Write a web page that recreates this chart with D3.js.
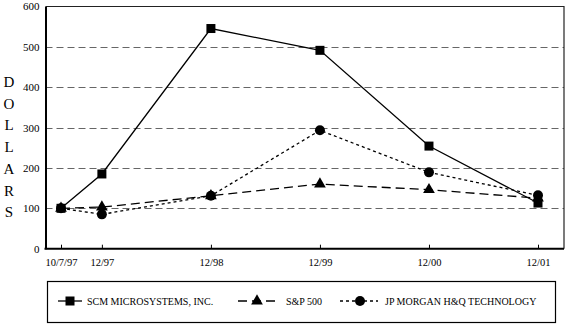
<!DOCTYPE html>
<html>
<head>
<meta charset="utf-8">
<script src="https://cdn.jsdelivr.net/npm/d3@7"></script>
<style>
  html, body { margin: 0; padding: 0; background: #fff; }
  svg { display: block; }
  svg text { font-family: 'Liberation Serif', 'Times New Roman', 'DejaVu Serif', serif !important; fill: #000; }
</style>
</head>
<body>
<svg id="chart" width="567" height="324" font-family="Liberation Serif, DejaVu Serif, serif"></svg>
<script>
// ---- data ----
const categories = ["10/7/97", "12/97", "12/98", "12/99", "12/00", "12/01"];
const periodYears = [-0.375, 0, 1, 2, 3, 4]; // years relative to 12/97
const scmValues = [100, 185, 545, 491, 254, 113];
const spValues = [100, 103, 131, 160, 146, 125];
const jpmValues = [100, 85, 131, 293, 189, 132];
const yTicks = [0, 100, 200, 300, 400, 500, 600];
const seriesNames = ["SCM MICROSYSTEMS, INC.", "S&P 500", "JP MORGAN H&Q TECHNOLOGY"];
const yTitle = "DOLLARS";

(function () {
const svg = d3.select("#chart");
const plotLeft = 45.5, plotRight = 564, plotTop = 6.3, plotBottom = 248.7;

const x = d3.scaleLinear().domain([-0.375, 4]).range([61, 538]);
const y = d3.scaleLinear().domain([0, 600]).range([plotBottom, plotTop]);

// gridlines
svg.append("g").selectAll("line")
  .data(yTicks.filter(v => v > 0 && v < 600))
  .join("line")
  .attr("x1", plotLeft).attr("x2", plotRight)
  .attr("y1", d => Math.round(y(d)) + 0.5).attr("y2", d => Math.round(y(d)) + 0.5)
  .attr("stroke", "#666").attr("stroke-width", 1)
  .attr("stroke-dasharray", "7,4");

// frame top/right
svg.append("line").attr("x1", plotLeft).attr("x2", plotRight).attr("y1", 6.5).attr("y2", 6.5)
  .attr("stroke", "#222").attr("stroke-width", 1.2);
svg.append("line").attr("x1", plotRight).attr("x2", plotRight).attr("y1", 6).attr("y2", plotBottom)
  .attr("stroke", "#222").attr("stroke-width", 1.2);

// y axis
const yAxis = d3.axisLeft(y).tickValues(yTicks).tickSize(0).tickPadding(6);
const gy = svg.append("g").attr("transform", `translate(${plotLeft},0)`).call(yAxis)
  .attr("font-family", null).attr("font-size", 11);
gy.select(".domain").attr("stroke", "#000").attr("stroke-width", 2);
gy.selectAll("text").attr("fill", "#000");

// x axis (ticks pointing up)
const xAxis = d3.axisBottom(x).tickValues(periodYears)
  .tickFormat((d, i) => categories[i]).tickSize(-4).tickSizeOuter(0).tickPadding(10);
const gx = svg.append("g").attr("transform", `translate(0,${plotBottom})`).call(xAxis)
  .attr("font-family", null).attr("font-size", 10.5);
gx.select(".domain").attr("d", `M${plotLeft - 1},0H${plotRight}`).attr("stroke", "#000").attr("stroke-width", 2);
gx.selectAll(".tick line").attr("stroke", "#000").attr("stroke-width", 1);
gx.selectAll("text").attr("fill", "#000");

// y title (stacked letters)
svg.append("g").selectAll("text")
  .data(yTitle.split(""))
  .join("text")
  .attr("x", 9).attr("y", (d, i) => 87 + i * 21.7)
  .attr("text-anchor", "middle")
  .attr("font-size", 15)
  .text(d => d);

// series
const series = [
  { name: seriesNames[0], values: scmValues, dash: null, marker: "square" },
  { name: seriesNames[1], values: spValues, dash: "9,5", marker: "triangle" },
  { name: seriesNames[2], values: jpmValues, dash: "3,3", marker: "circle" }
];

const line = d3.line().x((d, i) => x(periodYears[i])).y(d => y(d));

function drawMarker(g, type, cx, cy) {
  if (type === "square") {
    g.append("rect").attr("x", cx - 4.5).attr("y", cy - 4.5).attr("width", 9).attr("height", 9).attr("fill", "#000");
  } else if (type === "circle") {
    g.append("circle").attr("cx", cx).attr("cy", cy).attr("r", 5).attr("fill", "#000");
  } else {
    g.append("path").attr("d", d3.symbol(d3.symbolTriangle, 60)()).attr("transform", `translate(${cx},${cy})`).attr("fill", "#000");
  }
}

series.forEach(s => {
  svg.append("path").datum(s.values)
    .attr("d", line).attr("fill", "none").attr("stroke", "#000").attr("stroke-width", 1.3)
    .attr("stroke-dasharray", s.dash);
});
series.forEach(s => {
  const g = svg.append("g");
  s.values.forEach((v, i) => drawMarker(g, s.marker, x(periodYears[i]), y(v)));
});

// legend
svg.append("rect").attr("x", 47.5).attr("y", 281.5).attr("width", 508).attr("height", 41)
  .attr("fill", "none").attr("stroke", "#000").attr("stroke-width", 1.2);
const legendItems = [
  { x1: 58, x2: 82, mx: 70, tx: 87 },
  { x1: 238, x2: 277, mx: 257, tx: 286 },
  { x1: 340, x2: 378, mx: 360, tx: 385 }
];
legendItems.forEach((li, i) => {
  const s = series[i];
  const g = svg.append("g");
  g.append("line").attr("x1", li.x1).attr("x2", li.x2).attr("y1", 301).attr("y2", 301)
    .attr("stroke", "#000").attr("stroke-width", 1.3).attr("stroke-dasharray", s.dash);
  drawMarker(g, s.marker, li.mx, 301);
  g.append("text").attr("x", li.tx).attr("y", 304.5).attr("font-size", 10).text(s.name);
});
})();
</script>
</body>
</html>
